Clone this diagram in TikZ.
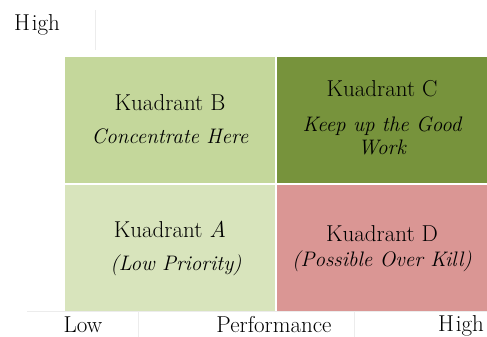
\documentclass[tikz,border=0pt]{standalone}
\usepackage{xcolor}
\definecolor{qA}{HTML}{D8E4BC}
\definecolor{qB}{HTML}{C4D79B}
\definecolor{qC}{HTML}{77933C}
\definecolor{qD}{HTML}{DA9694}
\definecolor{faint}{HTML}{ECECEC}
\begin{document}
\begin{tikzpicture}[x=1pt,y=-1pt,
  quad/.style={draw=none,inner sep=0pt,minimum width=210pt,minimum height=126pt,anchor=north west},
  lbl/.style={anchor=base,inner sep=0pt,font=\fontsize{23}{27}\selectfont},
  ilbl/.style={anchor=base,inner sep=0pt,font=\fontsize{21}{25}\selectfont\itshape},
  axis/.style={faint,line width=0.8pt}]
\useasboundingbox (0,0) rectangle (487,337);
% faint table lines
\coordinate (v1a) at (95,10); \coordinate (v1b) at (95,50);
\coordinate (h1a) at (27,311); \coordinate (h1b) at (487,311);
\coordinate (v2a) at (138,311); \coordinate (v2b) at (138,337);
\coordinate (v3a) at (354,311); \coordinate (v3b) at (354,337);
\draw[axis] (v1a) -- (v1b);
\draw[axis] (h1a) -- (h1b);
\draw[axis] (v2a) -- (v2b);
\draw[axis] (v3a) -- (v3b);
% quadrants
\node[quad,fill=qB] (B) at (65,57) {};
\node[quad,fill=qC] (C) at (277,57) {};
\node[quad,fill=qA] (A) at (65,185) {};
\node[quad,fill=qD] (D) at (277,185) {};
% texts
\node[lbl] (tB1) at (170,110) {Kuadrant B};
\node[ilbl] (tB2) at (170,143) {Concentrate Here};
\node[lbl] (tC1) at (382,96) {Kuadrant C};
\node[ilbl] (tC2) at (382,131) {Keep up the Good};
\node[ilbl] (tC3) at (382,154) {Work};
\node[lbl] (tA1) at (170,237) {Kuadrant \textit{A}};
\node[ilbl] (tA2) at (176,270) {(Low Priority)};
\node[lbl] (tD1) at (382,241) {Kuadrant D};
\node[ilbl] (tD2) at (382,266) {(Possible Over Kill)};
% axis labels
\node[lbl] (hi1) at (37,31) {H\hspace{2pt}igh};
\node[lbl] (lo) at (83,332) {Low};
\node[lbl] (perf) at (274,332) {Performance};
\node[lbl] (hi2) at (461,331) {H\hspace{2pt}igh};
\end{tikzpicture}
\end{document}
